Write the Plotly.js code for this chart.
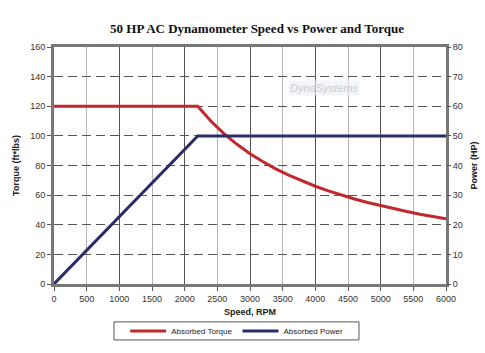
<!DOCTYPE html>
<html><head><meta charset="utf-8">
<script src="https://cdn.plot.ly/plotly-3.0.1.min.js"></script>
<style>body{margin:0;background:#fff}#chart{width:485px;height:353px}</style>
</head><body><div id="chart"></div>
<script>
// Data
const torqueSpeed = [0, 2200, 2400, 2600, 2800, 3000, 3200, 3400, 3600, 3800, 4000, 4200, 4400, 4600, 4800, 5000, 5200, 5400, 5600, 5800, 6000];
const torqueValues = [120, 120, 110, 101.5, 94.3, 88, 82.5, 77.6, 73.3, 69.5, 66, 62.9, 60, 57.4, 55, 52.8, 50.8, 48.9, 47.1, 45.5, 44];
const powerSpeed = [0, 2200, 6000];
const powerValues = [0, 50, 50];
const xTicks = [0, 500, 1000, 1500, 2000, 2500, 3000, 3500, 4000, 4500, 5000, 5500, 6000];
const seriesNames = ['Absorbed Torque', 'Absorbed Power'];

const tickFont = {family: 'Liberation Sans, Arial, sans-serif', size: 9, color: '#333'};
const titleFont = {family: 'Liberation Sans, Arial, sans-serif', size: 9, color: '#222', weight: 'bold'};

const traces = [
  {x: torqueSpeed, y: torqueValues, name: seriesNames[0], type: 'scatter', mode: 'lines',
   line: {color: '#c1272d', width: 3}, xaxis: 'x', yaxis: 'y'},
  {x: powerSpeed, y: powerValues, name: seriesNames[1], type: 'scatter', mode: 'lines',
   line: {color: '#2b2d66', width: 3}, xaxis: 'x', yaxis: 'y2'}
];

const layout = {
  width: 485, height: 353,
  margin: {l: 54, r: 39, t: 47, b: 69},
  paper_bgcolor: '#fff', plot_bgcolor: '#fff',
  title: {text: '50 HP AC Dynamometer Speed vs Power and Torque', x: 0.53, xanchor: 'center', xref: 'container',
          y: 0.918, yanchor: 'middle', yref: 'container',
          font: {family: 'Liberation Serif, Times New Roman, serif', size: 13, color: '#111', weight: 'bold'}},
  showlegend: true,
  legend: {orientation: 'h', x: 0.466, xanchor: 'center', y: 0.0623, yanchor: 'middle', yref: 'container',
           borderwidth: 0, bgcolor: 'rgba(0,0,0,0)', font: {family: 'Liberation Sans, Arial, sans-serif', size: 8, color: '#222'},
           itemwidth: 36, tracegroupgap: 0},
  shapes: [{type: 'rect', xref: 'paper', yref: 'paper', x0: 0.153, x1: 0.778, y0: -0.160, y1: -0.236,
            line: {color: '#555', width: 1}, fillcolor: 'rgba(0,0,0,0)', layer: 'below'}],
  xaxis: {range: [0, 6000], tickvals: xTicks, ticktext: xTicks.map(String), showgrid: true, gridcolor: '#b5b5b5', gridwidth: 1,
          zeroline: false, showline: true, mirror: true, linecolor: '#777', linewidth: 3, automargin: false,
          ticks: 'outside', ticklen: 4, tickcolor: '#555', tickfont: tickFont,
          title: {text: 'Speed, RPM', font: titleFont, standoff: 6}},
  xaxis2: {range: [0, 6000], overlaying: 'x', dtick: 1000, tick0: 0, showgrid: true, gridcolor: '#555', gridwidth: 1,
           showticklabels: false, ticks: '', zeroline: false, showline: false, automargin: false},
  yaxis: {range: [0, 160], dtick: 20, showgrid: true, gridcolor: '#555', griddash: '9px,5px', gridwidth: 1,
          zeroline: false, showline: true, mirror: true, linecolor: '#777', linewidth: 3, automargin: false,
          ticks: 'outside', ticklen: 4, tickcolor: '#555', tickfont: tickFont,
          title: {text: 'Torque (ft*lbs)', font: titleFont, standoff: 10}},
  yaxis2: {range: [0, 80], dtick: 10, overlaying: 'y', side: 'right', showgrid: false, zeroline: false, automargin: false,
           ticks: 'outside', ticklen: 4, tickcolor: '#555', tickfont: tickFont, showline: false,
           title: {text: 'Power (HP)', font: titleFont, standoff: 8}},
  annotations: [{xref: 'paper', yref: 'paper', x: 0.78, y: 0.86, text: '<i>DynaSystems</i>', showarrow: false,
                 font: {family: 'Liberation Sans, Arial, sans-serif', size: 11, color: '#c8ccd4'},
                 bgcolor: 'rgba(235,238,244,0.6)'}]
};

// dummy trace to activate xaxis2 for its darker gridlines
traces.push({x: [0], y: [0], xaxis: 'x2', yaxis: 'y', mode: 'markers', marker: {opacity: 0}, showlegend: false, hoverinfo: 'skip'});

Plotly.newPlot('chart', traces, layout, {displayModeBar: false, staticPlot: true});
</script></body></html>
